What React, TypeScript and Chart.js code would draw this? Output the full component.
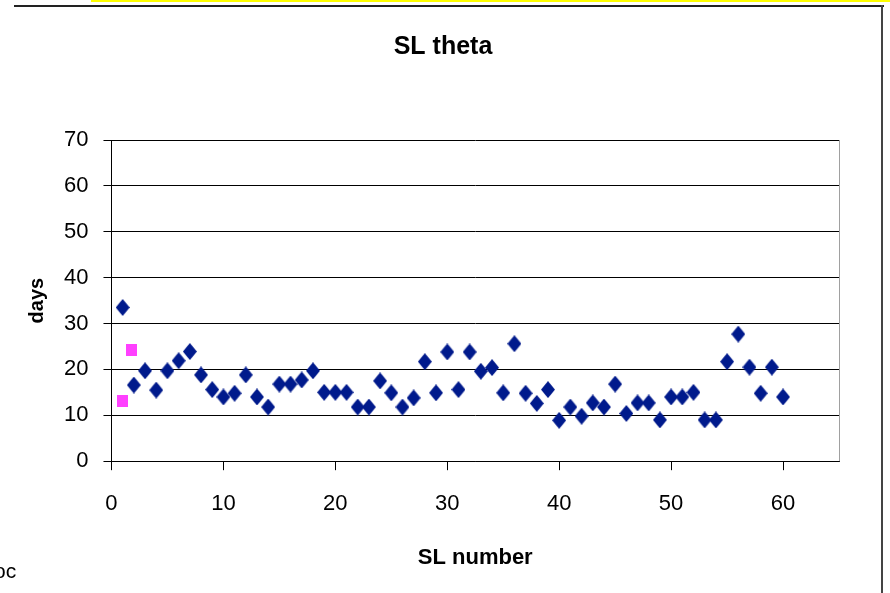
import React, { useEffect, useRef } from "react";
import { Chart, registerables } from "chart.js";

Chart.register(...registerables);

const slNumbers: number[] = Array.from({ length: 60 }, (_, i) => i + 1);
const thetaDays: number[] = [
  33.5, 16.6, 19.7, 15.5, 19.7, 21.9, 23.9, 18.8, 15.6, 14,
  14.8, 18.8, 14, 11.8, 16.8, 16.8, 17.7, 19.7, 15, 15,
  15, 11.8, 11.8, 17.5, 14.9, 11.8, 13.8, 21.7, 14.9, 23.8,
  15.6, 23.8, 19.6, 20.4, 14.9, 25.6, 14.8, 12.6, 15.6, 8.9,
  11.8, 9.8, 12.7, 11.8, 16.8, 10.4, 12.7, 12.7, 9, 14,
  14, 15, 9, 9, 21.7, 27.7, 20.5, 14.8, 20.5, 14,
];
const extraX: number[] = [1, 1.8];
const extraDays: number[] = [13.2, 24.3];

const xTicks: number[] = [0, 10, 20, 30, 40, 50, 60];
const yTicks: number[] = [0, 10, 20, 30, 40, 50, 60, 70];

const FONT = "'Liberation Sans', Arial, sans-serif";

function makeDiamond(): HTMLCanvasElement {
  const c = document.createElement("canvas");
  c.width = 14;
  c.height = 17;
  const g = c.getContext("2d")!;
  g.fillStyle = "#001a8c";
  g.beginPath();
  g.moveTo(7, 0);
  g.lineTo(14, 8.5);
  g.lineTo(7, 17);
  g.lineTo(0, 8.5);
  g.closePath();
  g.fill();
  return c;
}

function makeSquare(): HTMLCanvasElement {
  const c = document.createElement("canvas");
  c.width = 11;
  c.height = 12;
  const g = c.getContext("2d")!;
  g.fillStyle = "#ff40ff";
  g.fillRect(0, 0, 11, 12);
  return c;
}

const rightBorder = {
  id: "rightBorder",
  afterDraw(chart: any) {
    const { ctx, chartArea } = chart;
    ctx.save();
    ctx.strokeStyle = "#a0a0a0";
    ctx.lineWidth = 1;
    ctx.beginPath();
    ctx.moveTo(Math.round(chartArea.right) + 0.5, chartArea.top);
    ctx.lineTo(Math.round(chartArea.right) + 0.5, chartArea.bottom);
    ctx.stroke();
    ctx.restore();
  },
};

export default function App() {
  const ref = useRef<HTMLCanvasElement | null>(null);

  useEffect(() => {
    if (!ref.current) return;
    const chart = new Chart(ref.current, {
      type: "scatter",
      data: {
        datasets: [
          {
            label: "SL theta",
            data: slNumbers.map((x, i) => ({ x, y: thetaDays[i] })),
            pointStyle: makeDiamond() as any,
            backgroundColor: "#001a8c",
            borderColor: "#001a8c",
          },
          {
            label: "extra",
            data: extraX.map((x, i) => ({ x, y: extraDays[i] })),
            pointStyle: makeSquare() as any,
            backgroundColor: "#ff40ff",
            borderColor: "#ff40ff",
          },
        ],
      },
      plugins: [rightBorder],
      options: {
        responsive: false,
        animation: false,
        layout: { padding: { left: 47, right: 51, top: 0, bottom: 0 } },
        plugins: {
          legend: { display: false },
          tooltip: { enabled: false },
          title: {
            display: true,
            text: "SL theta",
            color: "#000",
            font: { family: FONT, size: 25, weight: "bold" },
            padding: { top: 32, bottom: 78 },
          },
        },
        scales: {
          x: {
            type: "linear",
            min: 0,
            max: 65,
            afterBuildTicks: (s: any) => {
              s.ticks = xTicks.map((v) => ({ value: v }));
            },
            ticks: {
              stepSize: 10,
              includeBounds: false,
              color: "#000",
              padding: 21,
              font: { family: FONT, size: 22 },
            },
            grid: {
              drawOnChartArea: false,
              drawTicks: true,
              tickLength: 9,
              color: "#000",
            },
            border: { display: true, color: "#000", width: 1 },
            title: {
              display: true,
              text: "SL number",
              color: "#000",
              font: { family: FONT, size: 22, weight: "bold" },
              padding: { top: 6, bottom: 22 },
            },
          },
          y: {
            type: "linear",
            min: 0,
            max: 70,
            afterBuildTicks: (s: any) => {
              s.ticks = yTicks.map((v) => ({ value: v }));
            },
            ticks: {
              stepSize: 10,
              color: "#000",
              padding: 15,
              font: { family: FONT, size: 22 },
            },
            grid: {
              drawOnChartArea: true,
              drawTicks: true,
              tickLength: 8,
              color: "#000",
              lineWidth: 1,
            },
            border: { display: true, color: "#000", width: 1 },
            title: {
              display: true,
              text: "days",
              color: "#000",
              font: { family: FONT, size: 20, weight: "bold" },
              padding: { top: -22, bottom: 0 },
            },
          },
        },
      },
    });
    return () => chart.destroy();
  }, []);

  return (
    <div
      style={{
        position: "absolute",
        left: 0,
        top: 0,
        width: 890,
        height: 593,
        overflow: "hidden",
        background: "#fff",
      }}
    >
      <canvas ref={ref} width={890} height={593} style={{ position: "absolute", left: 0, top: 0 }} />
      <div style={{ position: "absolute", left: 91, top: 0, width: 799, height: 2, background: "#ffff00" }} />
      <div style={{ position: "absolute", left: 14, top: 5, width: 870, height: 2, background: "#222" }} />
      <div style={{ position: "absolute", left: 881, top: 5, width: 2, height: 588, background: "#444" }} />
      <div
        style={{
          position: "absolute",
          left: -6,
          top: 559,
          fontFamily: FONT,
          fontSize: 21,
          color: "#000",
          lineHeight: "24px",
        }}
      >
        oc
      </div>
    </div>
  );
}
